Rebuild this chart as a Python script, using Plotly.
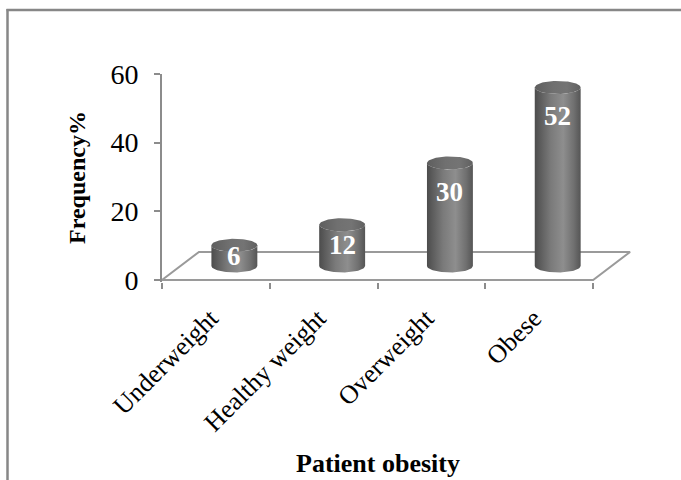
import numpy as np
import plotly.graph_objects as go

# ---- data -------------------------------------------------------------
categories = ["Underweight", "Healthy weight", "Overweight", "Obese"]
frequency = [6, 12, 30, 52]
y_ticks = [0, 20, 40, 60]

# ---- geometry of the 3-D look (axis units) ------------------------------
DEPTH_X = 0.343   # sideways shift of the floor's back edge (category units)
DEPTH_Y = 8.16    # upward shift of the floor's back edge (value units)
RX = 0.213        # cylinder half width (category units)
RY = 1.9          # half height of the cylinder ellipses (value units)
LABEL_SHIFT = -0.05  # category labels sit slightly left of the slot centre

W, H = 681, 480
M_L, M_R, M_T, M_B = 162, 34, 74, 198
X_RANGE = [-0.5, 4.0]
Y_RANGE = [-0.6, 60]

FONT = "Liberation Serif"
GRID_GREY = "#8c8c8c"

BODY_SCALE = [
    [0.0, "#4c4c4c"], [0.12, "#5c5c5c"], [0.35, "#7a7a7a"],
    [0.62, "#8e8e8e"], [0.85, "#707070"], [1.0, "#555555"],
]
CAP_SCALE = [
    [0.0, "#5e5e5e"], [0.4, "#707070"], [0.7, "#747474"], [1.0, "#606060"],
]


def paper_x(px):
    return (px - M_L) / (W - M_L - M_R)


def paper_y(py):
    return (H - M_B - py) / (H - M_T - M_B)


fig = go.Figure()

# floor of the 3-D plot area
n = len(categories)
fx = [-0.5, n - 0.5, n - 0.5 + DEPTH_X, -0.5 + DEPTH_X, -0.5]
fy = [0, 0, DEPTH_Y, DEPTH_Y, 0]
fig.add_trace(go.Scatter(x=fx, y=fy, mode="lines",
                         line=dict(color="#9a9a9a", width=2),
                         hoverinfo="skip", showlegend=False))

base = DEPTH_Y / 2
t_front = np.linspace(np.pi, 2 * np.pi, 40)
t_full = np.linspace(0, 2 * np.pi, 80)
annotations = []

for i, (cat, v) in enumerate(zip(categories, frequency)):
    cx = i + DEPTH_X / 2
    top = base + v
    # cylinder body: bottom front arc, right side, top front arc back
    bx = cx + RX * np.cos(t_front)
    by = base + RY * np.sin(t_front)
    tx = (cx + RX * np.cos(t_front))[::-1]
    ty = (top + RY * np.sin(t_front))[::-1]
    fig.add_trace(go.Scatter(
        x=np.concatenate([bx, tx, bx[:1]]),
        y=np.concatenate([by, ty, by[:1]]),
        fill="toself", mode="lines", line=dict(width=0),
        fillgradient=dict(type="horizontal", colorscale=BODY_SCALE),
        name=cat, hoverinfo="skip", showlegend=False))
    # cylinder cap
    fig.add_trace(go.Scatter(
        x=cx + RX * np.cos(t_full), y=top + RY * np.sin(t_full),
        fill="toself", mode="lines", line=dict(width=0),
        fillgradient=dict(type="horizontal", colorscale=CAP_SCALE),
        hoverinfo="skip", showlegend=False))
    # value label inside the cylinder
    annotations.append(dict(
        x=cx, y=top - min(v / 2, 8.4), xref="x", yref="y",
        text=f"<b>{v}</b>", showarrow=False,
        font=dict(family=FONT, size=27, color="white"),
        xanchor="center", yanchor="middle"))

# axis titles
annotations.append(dict(
    x=paper_x(378), y=paper_y(463), xref="paper", yref="paper",
    text="<b>Patient obesity</b>", showarrow=False,
    font=dict(family=FONT, size=26, color="black"),
    xanchor="center", yanchor="middle"))
annotations.append(dict(
    x=paper_x(77), y=paper_y(178), xref="paper", yref="paper",
    text="<b>Frequency%</b>", showarrow=False, textangle=-90,
    font=dict(family=FONT, size=24, color="black"),
    xanchor="center", yanchor="middle"))

# outer chart border (top and left edges)
shapes = [
    dict(type="line", xref="paper", yref="paper",
         x0=paper_x(6.5), x1=paper_x(W + 2), y0=paper_y(10), y1=paper_y(10),
         line=dict(color="#878787", width=2.5)),
    dict(type="line", xref="paper", yref="paper",
         x0=paper_x(7.5), x1=paper_x(7.5), y0=paper_y(9), y1=paper_y(H + 2),
         line=dict(color="#878787", width=2.5)),
]

fig.update_layout(
    width=W, height=H,
    margin=dict(l=M_L, r=M_R, t=M_T, b=M_B, pad=0),
    paper_bgcolor="white", plot_bgcolor="white",
    showlegend=False,
    annotations=annotations,
    shapes=shapes,
    xaxis=dict(
        range=X_RANGE, showgrid=False, zeroline=False, showline=False,
        tickmode="array", tickvals=[k + LABEL_SHIFT for k in range(n)],
        ticktext=categories,
        ticks="", tickangle=-45, ticklabelstandoff=15,
        tickfont=dict(family=FONT, size=26, color="black"),
        minor=dict(tickmode="array",
                   tickvals=[k - 0.5 for k in range(n + 1)],
                   ticks="outside", ticklen=6, tickwidth=2,
                   tickcolor=GRID_GREY, showgrid=False),
        fixedrange=True,
    ),
    yaxis=dict(
        range=Y_RANGE, showgrid=False, zeroline=False,
        showline=True, linecolor=GRID_GREY, linewidth=2,
        tickmode="array", tickvals=y_ticks,
        ticks="outside", ticklen=6, tickwidth=2, tickcolor=GRID_GREY,
        ticklabelstandoff=10,
        tickfont=dict(family=FONT, size=28, color="black"),
        fixedrange=True,
    ),
)

fig.write_html("out.html")
